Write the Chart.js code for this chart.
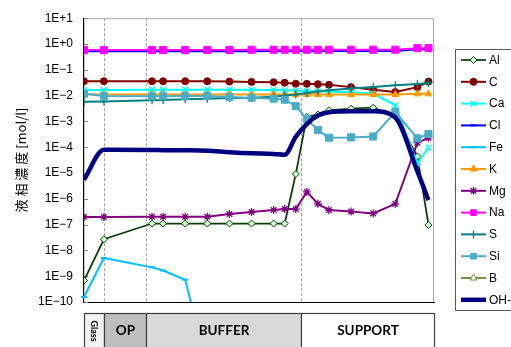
<!DOCTYPE html>
<html>
<head>
<meta charset="utf-8">
<script src="https://cdn.jsdelivr.net/npm/chart.js@4.4.1/dist/chart.umd.min.js"></script>
<style>
  html, body { margin: 0; padding: 0; background: #ffffff; }
  #wrap { width: 511px; height: 347px; position: relative; }
</style>
</head>
<body>
<div id="wrap"><canvas id="c" width="511" height="347"></canvas></div>
<script>
// Cell-centre positions along the profile
const positions = [-5.65, -3.85, 0.5, 1.5, 3.5, 5.5, 7.5, 9.5, 11.5, 12.5, 13.5, 14.5, 15.5, 16.5, 18.5, 20.5, 22.5, 24.5, 25.5];

// Aqueous concentrations [mol/l] per element
const alValues = [6.8e-10, 2.7e-8, 1.1e-7, 1.1e-7, 1.1e-7, 1.1e-7, 1.1e-7, 1.1e-7, 1.1e-7, 1.1e-7, 9.1e-6, 1.5e-3, 1.84e-3, 2.7e-3, 3.1e-3, 3.4e-3, 1.6e-3, 4.4e-5, 9.7e-8];
const cValues  = [0.036, 0.036, 0.036, 0.036, 0.036, 0.036, 0.035, 0.034, 0.033, 0.0315, 0.029, 0.0286, 0.0278, 0.0262, 0.0213, 0.0168, 0.0137, 0.0213, 0.035];
const caValues = [0.0165, 0.0165, 0.017, 0.017, 0.017, 0.017, 0.017, 0.017, 0.0165, 0.016, 0.0155, 0.015, 0.0145, 0.014, 0.0135, 0.012, 0.0042, 2.3e-5, 9.7e-5];
const clValues = [0.52, 0.52, 0.52, 0.52, 0.52, 0.52, 0.52, 0.52, 0.53, 0.53, 0.53, 0.53, 0.53, 0.53, 0.53, 0.53, 0.53, 0.62, 0.62];
const feValues = [1.56e-10, 5.1e-9, 2.2e-9, 1.66e-9, 7.3e-10, 3e-13, null, null, null, null, null, null, null, null, null, null, null, null, null];
const kValues  = [0.0112, 0.011, 0.011, 0.011, 0.011, 0.011, 0.011, 0.011, 0.011, 0.011, 0.011, 0.011, 0.011, 0.011, 0.011, 0.011, 0.011, 0.0117, 0.0117];
const mgValues = [1.97e-7, 1.97e-7, 2.0e-7, 2.0e-7, 2.0e-7, 2.0e-7, 2.57e-7, 3.06e-7, 3.66e-7, 4.0e-7, 4.0e-7, 1.85e-6, 6.4e-7, 3.66e-7, 3.2e-7, 2.7e-7, 6.4e-7, 1.5e-4, 2.3e-4];
const naValues = [0.58, 0.58, 0.58, 0.58, 0.58, 0.59, 0.59, 0.6, 0.6, 0.6, 0.6, 0.6, 0.6, 0.6, 0.6, 0.6, 0.6, 0.69, 0.69];
const sValues  = [0.0058, 0.0059, 0.0066, 0.0068, 0.0072, 0.0076, 0.0081, 0.0083, 0.009, 0.010, 0.011, 0.0125, 0.0145, 0.016, 0.019, 0.0215, 0.025, 0.028, 0.031];
const siValues = [0.0118, 0.0096, 0.0094, 0.0094, 0.0096, 0.0096, 0.0088, 0.0083, 0.0076, 0.0069, 0.0039, 0.00122, 4.6e-4, 2.34e-4, 2.4e-4, 2.6e-4, 2.3e-3, 2.2e-4, 3.25e-4];
const bValues  = [null, null, null, null, null, null, null, null, null, null, null, null, null, null, null, null, null, null, null];
const ohValues = [5.5e-6, 7.9e-5, 7.8e-5, 7.7e-5, 7.6e-5, 7.3e-5, 6.4e-5, 5.8e-5, 5.5e-5, 5.06e-5, 2.55e-4, 7.9e-4, 1.68e-3, 2.27e-3, 2.48e-3, 2.48e-3, 1.41e-3, 1.15e-5, 8.9e-7];

const seriesNames = ['Al', 'C', 'Ca', 'Cl', 'Fe', 'K', 'Mg', 'Na', 'S', 'Si', 'B', 'OH-'];
const seriesValues = [alValues, cValues, caValues, clValues, feValues, kValues, mgValues, naValues, sValues, siValues, bValues, ohValues];

// Log axis ticks
const tickValues = [10, 1, 0.1, 0.01, 1e-3, 1e-4, 1e-5, 1e-6, 1e-7, 1e-8, 1e-9, 1e-10];
const tickLabels = ['1E+1', '1E+0', '1E\u22121', '1E\u22122', '1E\u22123', '1E\u22124', '1E\u22125', '1E\u22126', '1E\u22127', '1E\u22128', '1E\u22129', '1E\u221210'];

// Material zones below the plot
const zoneNames = ['Glass', 'OP', 'BUFFER', 'SUPPORT'];
const zoneEdges = [-5.65, -3.85, 0, 14, 26];

const axisTitle = '液 相 濃 度 [mol/l]';

// Line / marker styling per series
const styles = {
  'Al':  { color: '#0b3d0b', width: 1.75, point: 'rectRot', r: 3.5, fill: '#ccffcc', bw: 1 },
  'C':   { color: '#800000', width: 2, point: 'circle', r: 3.5, fill: '#800000', bw: 1 },
  'Ca':  { color: '#00ffff', width: 2, point: 'crossRot', r: 4, fill: '#00ffff', bw: 1.5 },
  'Cl':  { color: '#0000ff', width: 2, point: 'line', r: 3, fill: '#0000ff', bw: 2 },
  'Fe':  { color: '#00c0ff', width: 2, point: 'line', r: 3, fill: '#00c0ff', bw: 2 },
  'K':   { color: '#ff9900', width: 2, point: 'triangle', r: 4, fill: '#ff9900', bw: 1 },
  'Mg':  { color: '#800080', width: 2, point: 'star', r: 4, fill: '#800080', bw: 1.3 },
  'Na':  { color: '#ff00ff', width: 2, point: 'rect', r: 5, fill: '#ff00ff', bw: 1 },
  'S':   { color: '#008080', width: 2, point: 'cross', r: 4, fill: '#008080', bw: 1.3 },
  'Si':  { color: '#4bacc6', width: 2, point: 'rect', r: 5, fill: '#4bacc6', bw: 1 },
  'B':   { color: '#77933c', width: 2, point: 'triangle', r: 4, fill: '#ffffff', bw: 1 },
  'OH-': { color: '#000080', width: 4.5, point: false, r: 0, fill: '#000080', bw: 0 }
};

const datasets = seriesNames.map((name, i) => {
  const s = styles[name];
  const ds = {
    label: name,
    data: positions.map((x, k) => ({ x: x, y: seriesValues[i][k] })),
    borderColor: s.color,
    borderWidth: s.width,
    backgroundColor: s.fill,
    pointStyle: s.point || 'circle',
    pointRadius: s.r,
    pointBackgroundColor: s.fill,
    pointBorderColor: s.color,
    pointBorderWidth: s.bw,
    spanGaps: false,
    order: -i
  };
  if (name === 'OH-') ds.cubicInterpolationMode = 'monotone';
  if (name === 'Fe') ds.clip = { left: 6, top: 6, right: 6, bottom: 0 };
  return ds;
});

const FONT = '"Liberation Sans", Arial, sans-serif';

const decorations = {
  id: 'decorations',
  beforeDatasetsDraw(chart) {
    const { ctx, chartArea: a, scales: { x, y } } = chart;
    ctx.save();
    // light frame on the top and right sides
    ctx.strokeStyle = '#a6a6a6';
    ctx.lineWidth = 1;
    ctx.beginPath();
    ctx.moveTo(a.left, a.top + 0.5);
    ctx.lineTo(a.right - 0.5, a.top + 0.5);
    ctx.lineTo(a.right - 0.5, a.bottom);
    ctx.stroke();
    // zone boundaries
    ctx.setLineDash([3, 2]);
    ctx.strokeStyle = '#a0a0a0';
    zoneEdges.slice(1, -1).forEach(v => {
      const px = Math.round(x.getPixelForValue(v)) + 0.5;
      ctx.beginPath();
      ctx.moveTo(px, a.top);
      ctx.lineTo(px, a.bottom);
      ctx.stroke();
    });
    ctx.setLineDash([]);
    // inward tick marks on the value axis
    ctx.strokeStyle = '#808080';
    tickValues.forEach(v => {
      const py = Math.round(y.getPixelForValue(v)) + 0.5;
      ctx.beginPath();
      ctx.moveTo(a.left, py);
      ctx.lineTo(a.left + 4, py);
      ctx.stroke();
    });
    ctx.restore();
  },
  afterDraw(chart) {
    const { ctx, scales: { x } } = chart;
    ctx.save();
    // zone bar
    const fills = ['#f2f2f2', '#bfbfbf', '#d9d9d9', '#ffffff'];
    const barTop = 313.5, barBottom = 352;
    for (let i = 0; i < zoneNames.length; i++) {
      const x0 = Math.round(x.getPixelForValue(zoneEdges[i])) + 0.5;
      const x1 = Math.round(x.getPixelForValue(zoneEdges[i + 1])) + 0.5;
      ctx.fillStyle = fills[i];
      ctx.fillRect(x0, barTop, x1 - x0, barBottom - barTop);
      ctx.strokeStyle = '#404040';
      ctx.lineWidth = 1.2;
      ctx.strokeRect(x0, barTop, x1 - x0, barBottom - barTop);
      const cx = (x0 + x1) / 2, cy = 331;
      ctx.fillStyle = '#000000';
      ctx.textAlign = 'center';
      ctx.textBaseline = 'middle';
      if (i === 0) {
        ctx.save();
        ctx.translate(cx - 0.5, cy);
        ctx.rotate(Math.PI / 2);
        ctx.font = 'bold 9px Lato, sans-serif';
        ctx.fillText(zoneNames[i], 0, 0);
        ctx.restore();
      } else {
        ctx.font = 'bold 13.5px Lato, sans-serif';
        ctx.fillText(zoneNames[i], cx, cy);
      }
    }
    // legend box
    const lx = 455.5, ly = 49.5, lw = 80, lh = 261;
    ctx.fillStyle = '#ffffff';
    ctx.fillRect(lx, ly, lw, lh);
    ctx.strokeStyle = '#595959';
    ctx.lineWidth = 1;
    ctx.strokeRect(lx, ly, lw, lh);
    const helpers = Chart.helpers;
    chart.data.datasets.forEach((ds, i) => {
      const s = styles[ds.label];
      const ry = 60 + i * 21.8;
      ctx.strokeStyle = s.color;
      ctx.lineWidth = s.width;
      ctx.beginPath();
      ctx.moveTo(461, ry);
      ctx.lineTo(486, ry);
      ctx.stroke();
      if (s.point && helpers && helpers.drawPoint) {
        ctx.fillStyle = s.fill;
        ctx.strokeStyle = s.color;
        ctx.lineWidth = s.bw;
        helpers.drawPoint(ctx, { pointStyle: s.point, radius: Math.min(s.r, 4), rotation: 0, borderWidth: s.bw }, 473.5, ry);
      }
      ctx.fillStyle = '#000000';
      ctx.font = '12px ' + FONT;
      ctx.textAlign = 'left';
      ctx.textBaseline = 'middle';
      ctx.fillText(ds.label, 489, ry + 0.5);
    });
    ctx.restore();
  }
};

new Chart(document.getElementById('c'), {
  type: 'line',
  data: { datasets: datasets },
  options: {
    responsive: false,
    animation: false,
    devicePixelRatio: 1,
    layout: { padding: { top: 15, right: 77, bottom: 45, left: 0 } },
    plugins: { legend: { display: false }, tooltip: { enabled: false } },
    scales: {
      x: {
        type: 'linear',
        min: zoneEdges[0],
        max: zoneEdges[zoneEdges.length - 1],
        ticks: { display: false },
        grid: { display: false, drawTicks: false },
        border: { display: true, color: '#000000', width: 1 },
        afterFit: s => { s.height = 0; }
      },
      y: {
        type: 'logarithmic',
        min: 1e-10,
        max: 10,
        afterBuildTicks: s => { s.ticks = tickValues.map(v => ({ value: v })); },
        afterFit: s => { s.width = 84; },
        ticks: {
          padding: 11,
          color: '#000000',
          font: { family: FONT, size: 12 },
          callback: v => {
            const k = tickValues.findIndex(t => Math.abs(Math.log10(t) - Math.log10(v)) < 1e-6);
            return k >= 0 ? tickLabels[k] : '';
          }
        },
        grid: { display: false, drawTicks: false },
        border: { display: true, color: '#000000', width: 1.2 },
        title: {
          display: true,
          text: axisTitle,
          color: '#000000',
          font: { family: '"Noto Sans CJK JP", sans-serif', size: 13 },
          padding: { top: 13, bottom: 0 }
        }
      }
    }
  },
  plugins: [decorations]
});
</script>
</body>
</html>
